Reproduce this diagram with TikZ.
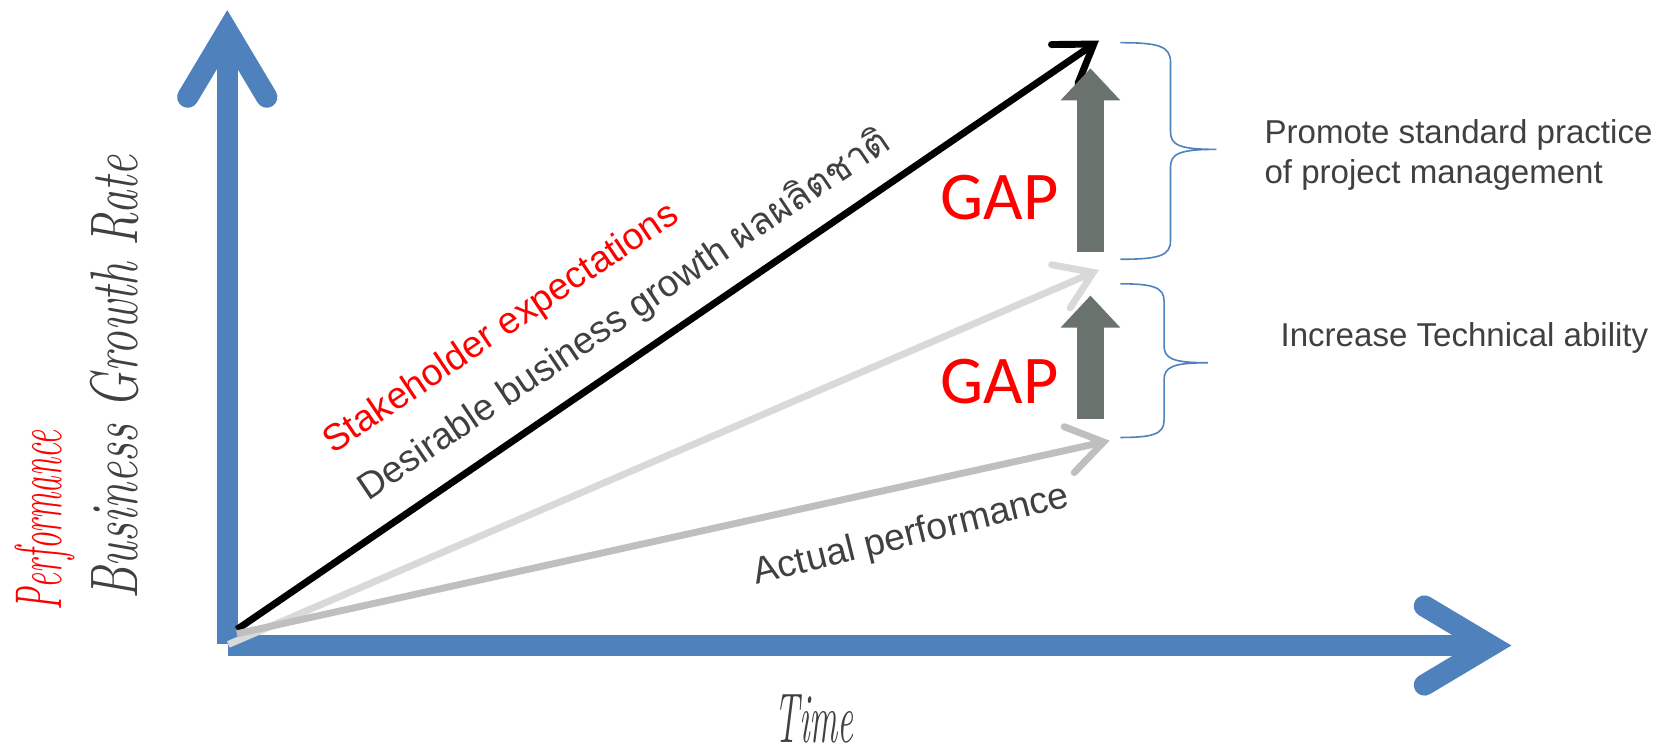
\documentclass[tikz,border=0pt]{standalone}
\usepackage{graphicx}
\usepackage{fontspec}
\newfontfamily\arialfont{Liberation Sans}
\newfontfamily\gapfont{Carlito}
\newfontfamily\thaifont[Script=Thai]{Loma}
\usetikzlibrary{arrows.meta}

\definecolor{axisblue}{HTML}{4F81BD}
\definecolor{labelgray}{HTML}{404040}
\definecolor{gapgray}{HTML}{6A726E}
\definecolor{hopegray}{HTML}{D9D9D9}
\definecolor{actualgray}{HTML}{BFBFBF}
\newcommand{\squeeze}[2]{\scalebox{#1}[1]{#2}}

\begin{document}
\begin{tikzpicture}[x=1pt,y=-1pt,
    axis/.style={axisblue,line width=20pt},
    axishead/.style={axisblue,line width=20pt,line cap=round,line join=miter},
    trend/.style={line width=6.5pt,-{Straight Barb[length=33pt,width=44pt,line cap=round,line join=miter]}},
    gapbar/.style={gapgray,line width=25pt,-{Triangle[length=30pt,width=54pt]}},
    brace/.style={axisblue,line width=1.5pt},
    slant/.style={font=\arialfont\fontsize{35}{42}\selectfont,labelgray,inner sep=0pt},
    side/.style={font=\arialfont\fontsize{31}{37.5}\selectfont,labelgray,inner sep=0pt,align=left},
    gap/.style={font=\gapfont\fontsize{64}{70}\selectfont,red},
    hand/.style={font=\itshape,labelgray,inner sep=0pt}]
    \useasboundingbox (0,0) rectangle (1568,701);
    % axes
    \coordinate (ybot) at (213,604);
    \coordinate (ytop) at (213,29);
    \coordinate (xbeg) at (214,605);
    \coordinate (xend) at (1397,605);
    \draw[axis] (ybot) -- (ytop);
    \draw[axis] (xbeg) -- (xend);
    \draw[axishead] ([shift={(-37,62)}]ytop) -- (ytop) -- ([shift={(37,62)}]ytop);
    \draw[axishead] ([shift={(-62,-37)}]xend) -- (xend) -- ([shift={(-62,37)}]xend);
    % growth lines
    \coordinate (B) at (222,590);
    \coordinate (L) at (214,604);
    \coordinate (M) at (222,594);
    \coordinate (want) at (1030,38);
    \coordinate (hope) at (1030,253);
    \coordinate (real) at (1040,413);
    \draw[trend,black] (B) -- (want);
    \draw[trend,hopegray] (L) -- (hope);
    \draw[trend,actualgray] (M) -- (real);
    % gaps
    \draw[gapbar] (1022,236) -- (1022,64);
    \draw[gapbar] (1022,393) -- (1022,277);
    \node[gap] (gapup) at (937,185) {GAP};
    \node[gap] (gapdown) at (937,358) {GAP};
    \draw[brace] (1050,40) .. controls (1085,40) and (1097,43) .. (1097,58) -- (1097,123)
      .. controls (1097,136) and (1105,140) .. (1140,140)
      .. controls (1105,140) and (1097,144) .. (1097,157) -- (1097,226)
      .. controls (1097,240) and (1085,243) .. (1050,243);
    \draw[brace] (1050,266) .. controls (1080,266) and (1091,269) .. (1091,282) -- (1091,324)
      .. controls (1091,336) and (1099,340) .. (1132,340)
      .. controls (1099,340) and (1091,344) .. (1091,356) -- (1091,394)
      .. controls (1091,407) and (1080,410) .. (1050,410);
    % labels
    \node[slant,red,rotate=34,anchor=base west] (stake) at (312,426) {Stakeholder expectations};
    \node[slant,rotate=34,anchor=base west] (desire) at (345,470) {Desirable business growth {\thaifont ผลผลิตชาติ}};
    \node[slant,rotate=14,anchor=base west] (actual) at (709,548) {Actual performance};
    \node[side,anchor=north west] (promote) at (1185,112) {Promote standard practice\\of project management};
    \node[side,anchor=base west] (skill) at (1200,325) {Increase Technical ability};
    \node[hand,red,rotate=90,anchor=base west] (perf) at (58,572) {\fontsize{62}{70}\selectfont\squeeze{0.5}{Performance}};
    \node[hand,rotate=90,anchor=base west] (rate) at (129,562) {\fontsize{63}{70}\selectfont\squeeze{0.7}{Business Growth Rate}};
    \node[hand,anchor=base] (time) at (763,696) {\fontsize{66}{70}\selectfont\squeeze{0.5}{Time}};
\end{tikzpicture}
\end{document}
